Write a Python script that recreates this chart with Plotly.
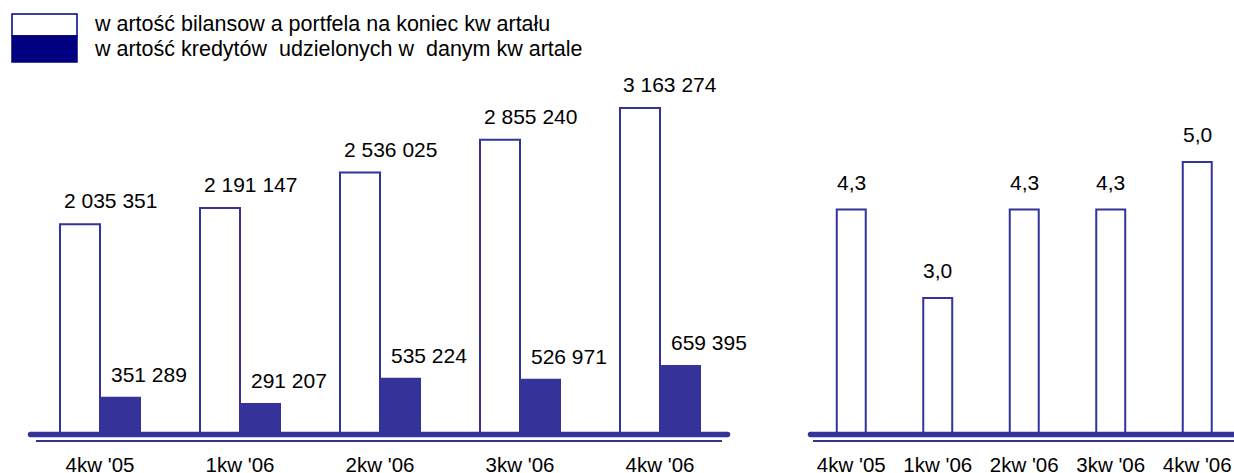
import plotly.graph_objects as go

# Quarterly data
quarters = ["4kw '05", "1kw '06", "2kw '06", "3kw '06", "4kw '06"]
portfolio_value = [2035351, 2191147, 2536025, 2855240, 3163274]
loans_granted = [351289, 291207, 535224, 526971, 659395]
ratio_values = [4.3, 3.0, 4.3, 4.3, 5.0]
legend_labels = [
    "w artość bilansow a portfela na koniec kw artału",
    "w artość kredytów  udzielonych w  danym kw artale",
]

W, H = 1234, 473
BAR = "#333399"
NAVY = "#000080"
FONT = "Liberation Sans, Arial, sans-serif"


def px(x):
    return x / W


def py(y):
    return (H - y) / H


def fmt_int(v):
    return f"{v:,}".replace(",", " ")


def fmt_dec(v):
    return f"{v:.1f}".replace(".", ",")


fig = go.Figure()

fig.add_trace(go.Bar(
    x=quarters, y=portfolio_value, name=legend_labels[0],
    marker=dict(color="white", line=dict(color=BAR, width=2)),
    xaxis="x", yaxis="y",
))
fig.add_trace(go.Bar(
    x=quarters, y=loans_granted, name=legend_labels[1],
    marker=dict(color=BAR, line=dict(color=BAR, width=2)),
    xaxis="x", yaxis="y",
))
fig.add_trace(go.Bar(
    x=quarters, y=ratio_values, width=0.335,
    marker=dict(color="white", line=dict(color=BAR, width=2)),
    xaxis="x2", yaxis="y2",
))

annotations = []
label_font = dict(family=FONT, size=21, color="black")
for q, v in zip(quarters, portfolio_value):
    annotations.append(dict(x=q, y=v, xref="x", yref="y", text=fmt_int(v),
                            showarrow=False, xanchor="center", yanchor="bottom",
                            xshift=10, yshift=10, font=label_font))
for q, v in zip(quarters, loans_granted):
    annotations.append(dict(x=q, y=v, xref="x", yref="y", text=fmt_int(v),
                            showarrow=False, xanchor="center", yanchor="bottom",
                            xshift=49, yshift=10, font=label_font))
for q, v in zip(quarters, ratio_values):
    annotations.append(dict(x=q, y=v, xref="x2", yref="y2", text=fmt_dec(v),
                            showarrow=False, xanchor="center", yanchor="bottom",
                            yshift=14, font=label_font))

# legend text
for i, lab in enumerate(legend_labels):
    annotations.append(dict(x=px(92), y=py(23.5 + 26 * i), xref="paper", yref="paper",
                            text=lab, showarrow=False, xanchor="left", yanchor="middle",
                            font=dict(family=FONT, size=21.5, color="black")))

shapes = []
# legend swatch: white upper half, navy lower half
shapes.append(dict(type="rect", xref="paper", yref="paper",
                   x0=px(12), x1=px(77), y0=py(36), y1=py(14),
                   fillcolor="white", line=dict(color=NAVY, width=1.5)))
shapes.append(dict(type="rect", xref="paper", yref="paper",
                   x0=px(12), x1=px(77), y0=py(62), y1=py(36),
                   fillcolor=NAVY, line=dict(color=NAVY, width=1.5)))


def baseline(x0, x1, thin_x0, thin_x1, cap_left=True, cap_right=True):
    out = [
        dict(type="line", xref="paper", yref="paper", layer="above",
             x0=px(x0), x1=px(x1), y0=py(434.6), y1=py(434.6),
             line=dict(color=BAR, width=5.5)),
        dict(type="line", xref="paper", yref="paper", layer="above",
             x0=px(thin_x0), x1=px(thin_x1), y0=py(441), y1=py(441),
             line=dict(color=BAR, width=2)),
    ]
    for on, xc in ((cap_left, x0), (cap_right, x1)):
        if on:
            out.append(dict(type="circle", xref="paper", yref="paper", layer="above",
                            xsizemode="pixel", ysizemode="pixel",
                            xanchor=px(xc), yanchor=py(434.6),
                            x0=-2.75, x1=2.75, y0=-2.75, y1=2.75,
                            fillcolor=BAR, line=dict(width=0)))
    return out


shapes += baseline(30.5, 727.5, 36, 722)
shapes += baseline(810.5, 1236, 813, 1234, cap_right=False)

axis_common = dict(showgrid=False, zeroline=False, showline=False, ticks="",
                   tickfont=dict(family=FONT, size=20.5, color="black"),
                   ticklabelstandoff=16, automargin=False, fixedrange=True)

fig.update_layout(
    width=W, height=H,
    margin=dict(l=0, r=0, t=0, b=0, autoexpand=False),
    paper_bgcolor="white", plot_bgcolor="white",
    showlegend=False,
    barmode="group", bargap=0.4286, bargroupgap=0,
    font=dict(family=FONT, color="black"),
    xaxis=dict(domain=[px(30), px(730)], range=[-0.5, 4.5], anchor="y", **axis_common),
    yaxis=dict(domain=[py(434), py(60)], range=[0, 374 * 9700], visible=False,
               automargin=False, fixedrange=True),
    xaxis2=dict(domain=[px(808), 1.0], range=[-0.5, 4.425], anchor="y2", **axis_common),
    yaxis2=dict(domain=[py(434), py(60)], range=[1, 1 + 374 / 68], visible=False,
                anchor="x2", automargin=False, fixedrange=True),
    annotations=annotations,
    shapes=shapes,
)

fig.write_html("out.html", config={"displayModeBar": False})
